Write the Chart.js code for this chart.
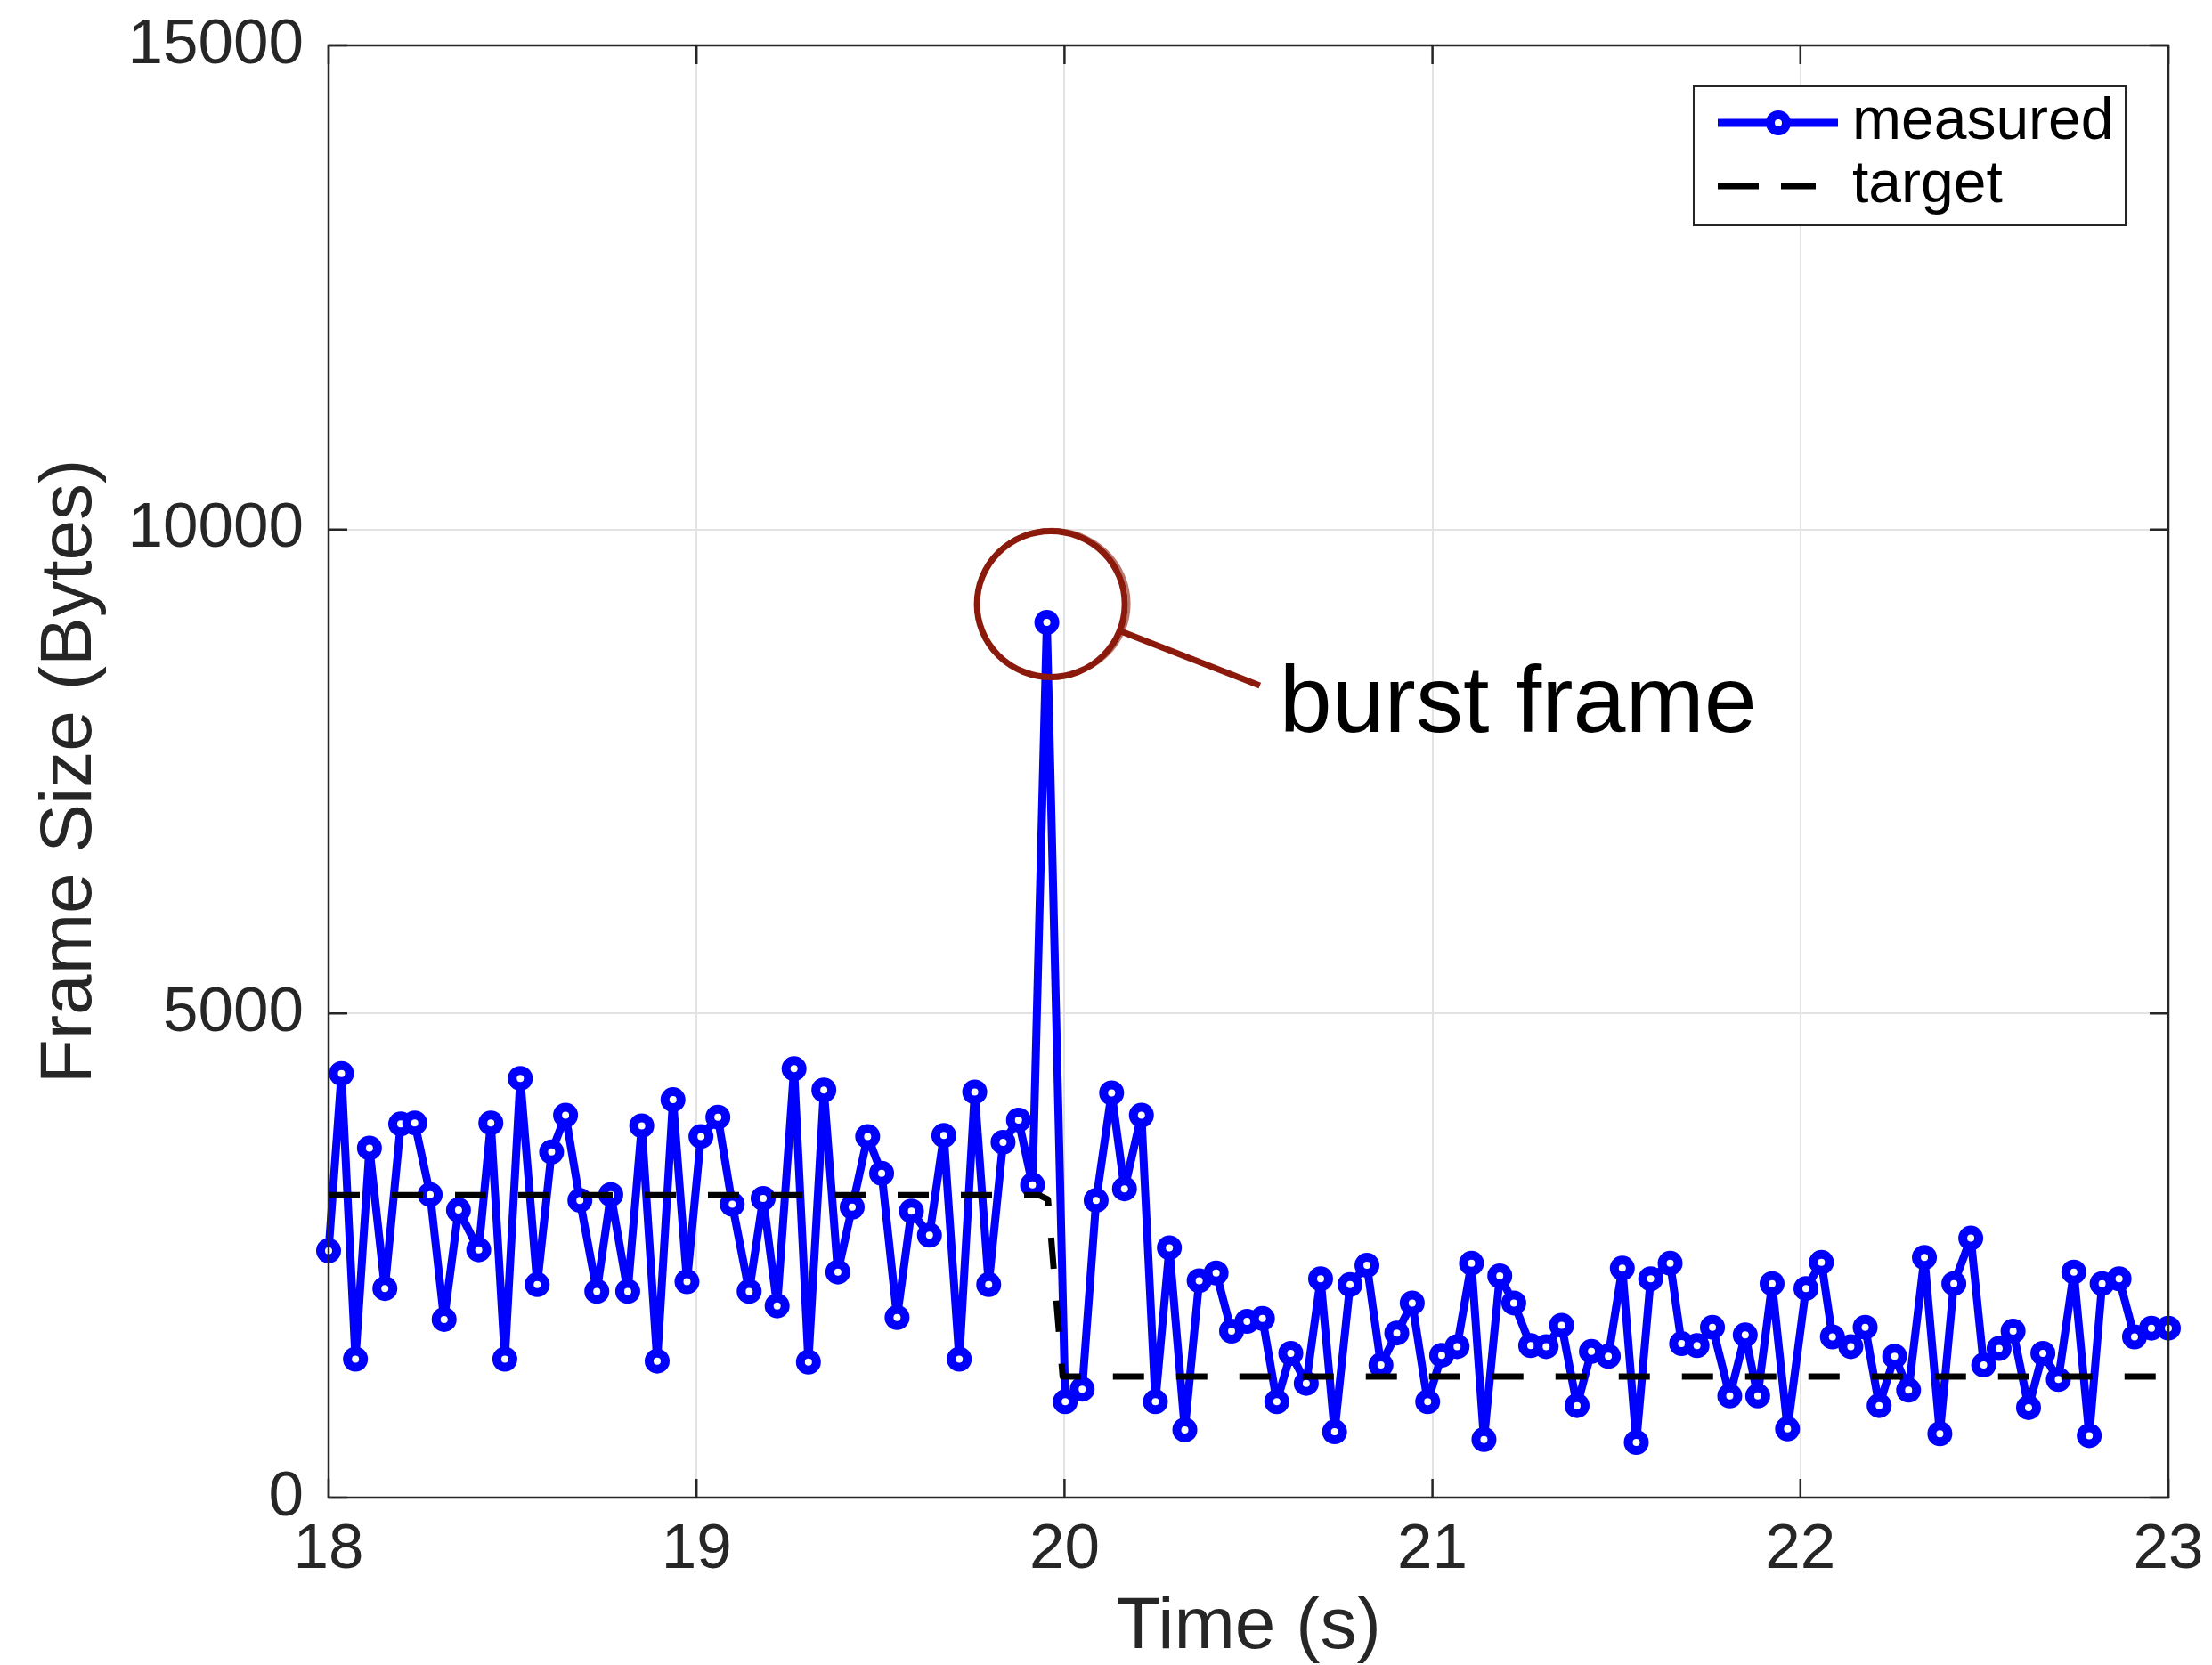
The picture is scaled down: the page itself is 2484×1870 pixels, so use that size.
<!DOCTYPE html>
<html>
<head>
<meta charset="utf-8">
<script src="https://cdn.jsdelivr.net/npm/chart.js@4.4.1/dist/chart.umd.min.js"></script>
<style>
html,body{margin:0;padding:0;background:#fff;}
#wrap{width:2484px;height:1870px;}
</style>
</head>
<body>
<div id="wrap"><canvas id="c" width="2484" height="1870"></canvas></div>
<script>
// ---- data ----
const measuredTimes = [18.000,18.035,18.073,18.111,18.153,18.196,18.234,18.276,18.314,18.353,18.408,18.441,18.479,18.521,18.567,18.606,18.644,18.683,18.729,18.767,18.813,18.851,18.893,18.936,18.974,19.012,19.058,19.097,19.143,19.181,19.219,19.265,19.304,19.346,19.384,19.423,19.465,19.503,19.545,19.584,19.633,19.672,19.714,19.756,19.794,19.833,19.875,19.913,19.952,20.002,20.048,20.086,20.128,20.163,20.209,20.247,20.285,20.327,20.366,20.412,20.454,20.496,20.538,20.577,20.615,20.657,20.696,20.734,20.776,20.822,20.860,20.903,20.945,20.987,21.025,21.067,21.106,21.140,21.183,21.221,21.267,21.309,21.351,21.393,21.432,21.478,21.516,21.554,21.593,21.646,21.677,21.719,21.761,21.808,21.850,21.884,21.923,21.965,22.015,22.057,22.087,22.137,22.176,22.214,22.256,22.294,22.337,22.379,22.417,22.463,22.498,22.540,22.578,22.620,22.659,22.701,22.743,22.785,22.820,22.866,22.908,22.954,23.000];
const measuredValues = [2550,4380,1430,3610,2160,3860,3870,3130,1840,2970,2560,3870,1430,4330,2200,3570,3950,3070,2130,3130,2130,3840,1410,4110,2230,3730,3930,3030,2130,3090,1980,4430,1400,4210,2330,3000,3730,3350,1860,2960,2710,3740,1430,4190,2200,3670,3900,3230,9040,990,1120,3070,4180,3190,3950,990,2580,700,2240,2320,1720,1820,1850,990,1490,1180,2260,680,2200,2400,1370,1700,2010,990,1470,1560,2420,600,2290,2010,1570,1560,1780,950,1510,1460,2370,570,2260,2420,1590,1570,1760,1050,1680,1050,2210,710,2160,2430,1660,1560,1760,950,1460,1110,2480,660,2210,2680,1370,1540,1720,930,1490,1220,2330,640,2210,2260,1660,1750,1750];
const targetTimes = [18.0, 19.93, 19.955, 19.995, 23.0];
const targetValues = [3125, 3125, 3080, 1250, 1250];
const xTickValues = [18, 19, 20, 21, 22, 23];
const yTickValues = [0, 5000, 10000, 15000];
const seriesNames = ['measured', 'target'];
const annotationText = 'burst frame';
const annotationCircle = {t: 19.963, v: 9230};
const annotationLineEnd = {t: 20.531, v: 8388};
const annotationTextPos = {t: 20.584, v: 7907};

const FONT = '"Liberation Sans", Arial, Helvetica, sans-serif';
const AX = '#262626';
const BLUE = '#0000ff';

const measuredData = measuredTimes.map((t, i) => ({x: t, y: measuredValues[i]}));
const targetData = targetTimes.map((t, i) => ({x: t, y: targetValues[i]}));

const framePlugin = {
  id: 'frame',
  afterDraw(chart) {
    const {ctx, chartArea: a, scales: {x, y}} = chart;
    ctx.save();
    // box
    ctx.strokeStyle = AX;
    ctx.lineWidth = 2.5;
    ctx.strokeRect(a.left, a.top, a.right - a.left, a.bottom - a.top);
    // inward ticks
    const tl = 21;
    ctx.beginPath();
    xTickValues.forEach(v => {
      const px = x.getPixelForValue(v);
      ctx.moveTo(px, a.bottom); ctx.lineTo(px, a.bottom - tl);
      ctx.moveTo(px, a.top); ctx.lineTo(px, a.top + tl);
    });
    yTickValues.forEach(v => {
      const py = y.getPixelForValue(v);
      ctx.moveTo(a.left, py); ctx.lineTo(a.left + tl, py);
      ctx.moveTo(a.right, py); ctx.lineTo(a.right - tl, py);
    });
    ctx.stroke();

    // annotation circle + pointer line
    const cx = x.getPixelForValue(annotationCircle.t);
    const cy = y.getPixelForValue(annotationCircle.v);
    const r = 83;
    ctx.strokeStyle = '#8b1a0c';
    ctx.lineWidth = 7;
    ctx.beginPath();
    ctx.ellipse(cx, cy, r, r - 1, 0, 0, Math.PI * 2);
    ctx.stroke();
    ctx.lineWidth = 3;
    ctx.globalAlpha = 0.6;
    ctx.beginPath();
    ctx.ellipse(cx + 2, cy - 1, r + 3, r, 0.1, 0, Math.PI * 2);
    ctx.stroke();
    ctx.globalAlpha = 1;
    const ex = x.getPixelForValue(annotationLineEnd.t);
    const ey = y.getPixelForValue(annotationLineEnd.v);
    const ang = Math.atan2(ey - cy, ex - cx);
    ctx.lineWidth = 7;
    ctx.beginPath();
    ctx.moveTo(cx + r * Math.cos(ang), cy + r * Math.sin(ang));
    ctx.lineTo(ex, ey);
    ctx.stroke();
    ctx.fillStyle = '#000';
    ctx.font = '106px ' + FONT;
    ctx.textBaseline = 'alphabetic';
    ctx.textAlign = 'left';
    ctx.fillText(annotationText, x.getPixelForValue(annotationTextPos.t), y.getPixelForValue(annotationTextPos.v));

    // legend
    const lx = a.right - 533, ly = a.top + 46, lw = 485, lh = 156;
    ctx.fillStyle = '#fff';
    ctx.fillRect(lx, ly, lw, lh);
    ctx.strokeStyle = AX;
    ctx.lineWidth = 2;
    ctx.strokeRect(lx, ly, lw, lh);
    const y1 = ly + 41, y2 = ly + 112;
    ctx.strokeStyle = BLUE;
    ctx.lineWidth = 9;
    ctx.beginPath(); ctx.moveTo(lx + 27, y1); ctx.lineTo(lx + 162, y1); ctx.stroke();
    ctx.beginPath(); ctx.arc(lx + 95, y1, 9, 0, Math.PI * 2);
    ctx.fillStyle = '#fff'; ctx.fill();
    ctx.lineWidth = 10; ctx.stroke();
    ctx.strokeStyle = '#000';
    ctx.lineWidth = 7;
    ctx.beginPath(); ctx.moveTo(lx + 27, y2); ctx.lineTo(lx + 73, y2);
    ctx.moveTo(lx + 98, y2); ctx.lineTo(lx + 137, y2); ctx.stroke();
    ctx.fillStyle = '#000';
    ctx.font = '66px ' + FONT;
    ctx.textBaseline = 'middle';
    ctx.fillText(seriesNames[0], lx + 178, y1);
    ctx.fillText(seriesNames[1], lx + 178, y2);
    ctx.restore();
  }
};

new Chart(document.getElementById('c'), {
  type: 'line',
  data: {
    datasets: [
      {
        label: seriesNames[0],
        data: measuredData,
        borderColor: BLUE,
        borderWidth: 9,
        borderJoinStyle: 'round',
        borderCapStyle: 'round',
        pointRadius: 9,
        pointBorderWidth: 10,
        pointBackgroundColor: '#fff',
        pointBorderColor: BLUE,
        tension: 0,
        clip: false,
        order: 2
      },
      {
        label: seriesNames[1],
        data: targetData,
        borderColor: '#000',
        borderWidth: 7,
        borderDash: [35, 36],
        borderJoinStyle: 'round',
        pointRadius: 0,
        tension: 0,
        order: 1
      }
    ]
  },
  options: {
    responsive: false,
    animation: false,
    events: [],
    layout: {padding: {top: 51, right: 49, left: 0, bottom: 0}},
    plugins: {legend: {display: false}, tooltip: {enabled: false}},
    scales: {
      x: {
        type: 'linear',
        min: 18, max: 23,
        afterFit(s) { s.height = 188; s.paddingLeft = 0; s.paddingRight = 0; },
        afterBuildTicks(s) { s.ticks = xTickValues.map(v => ({value: v})); },
        grid: {color: '#e3e3e3', lineWidth: 2, drawTicks: false},
        border: {display: false},
        ticks: {color: AX, font: {family: FONT, size: 71}, padding: 17, maxRotation: 0,
                callback: v => String(v)},
        title: {display: true, text: 'Time (s)', color: AX, font: {family: FONT, size: 82}, padding: {top: 0, bottom: -8}}
      },
      y: {
        min: 0, max: 15000,
        afterFit(s) { s.width = 369; s.paddingTop = 0; s.paddingBottom = 0; },
        afterBuildTicks(s) { s.ticks = yTickValues.map(v => ({value: v})); },
        grid: {color: '#e3e3e3', lineWidth: 2, drawTicks: false},
        border: {display: false},
        ticks: {color: AX, font: {family: FONT, size: 71}, padding: 28, callback: v => String(v)},
        title: {display: true, text: 'Frame Size (Bytes)', color: AX, font: {family: FONT, size: 82}, padding: {top: 30, bottom: 0}}
      }
    }
  },
  plugins: [framePlugin]
});
</script>
</body>
</html>
